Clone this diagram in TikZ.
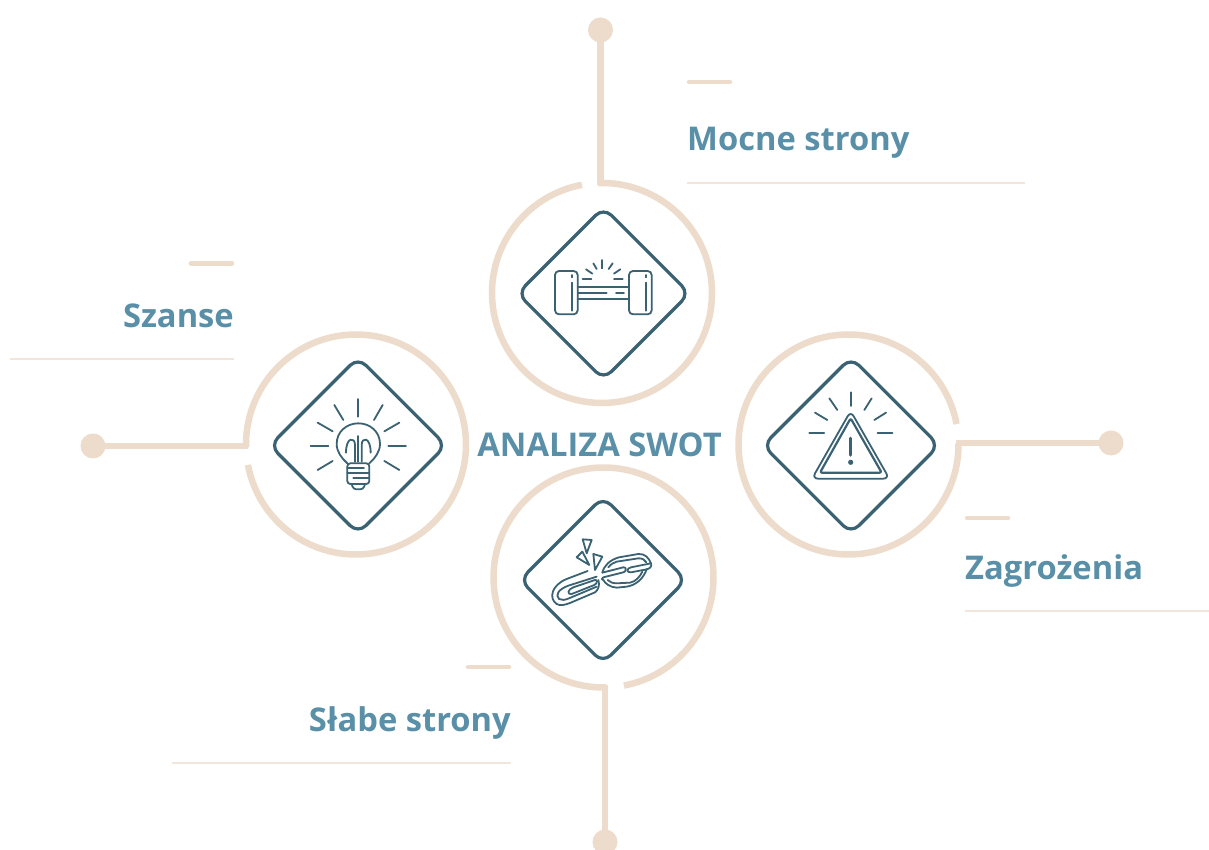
\documentclass[tikz,border=0pt]{standalone}
\usepackage{fontspec}
\setmainfont{Open Sans}
\definecolor{ringc}{HTML}{EDDCCB}
\definecolor{iconc}{HTML}{3A6272}
\definecolor{textc}{HTML}{5A8FA8}
\definecolor{thinc}{HTML}{F2E6DA}
\tikzset{
  ring/.style={draw=ringc,line width=6.5pt},
  connector/.style={draw=ringc,line width=6.5pt},
  dotnode/.style={circle,fill=ringc,inner sep=0pt,minimum size=25pt},
  dashbar/.style={draw=ringc,line width=4.5pt,line cap=round},
  thinline/.style={draw=thinc,line width=1.2pt},
  label/.style={text=textc,font=\fontsize{32.7}{38}\selectfont\bfseries,inner sep=0pt},
  frame/.style={draw=iconc,line width=3.2pt,rounded corners=11pt,line join=round},
  ico/.style={draw=iconc,line width=1.8pt,line cap=round,line join=round},
  zoomed/.style={x=0.33333pt,y=-0.33333pt}
}
\newcommand{\dmd}[3]{\draw[frame] (#1,#2+#3) -- (#1+#3,#2) -- (#1,#2-#3) -- (#1-#3,#2) -- cycle;}
\begin{document}
\begin{tikzpicture}[x=1pt,y=1pt]
\clip (0,0) rectangle (1209,850);
\fill[white] (0,0) rectangle (1209,850);

% rings
\draw[ring] (602,557) ++(92:110) arc[start angle=92,end angle=-259.5,radius=110pt];
\draw[ring] (356,405.5) ++(181.5:110) arc[start angle=181.5,end angle=-169.3,radius=110pt];
\draw[ring] (848.5,405.5) ++(0.5:110) arc[start angle=0.5,end angle=-349.3,radius=110pt];
\draw[ring] (603.5,272.5) ++(-88.7:110) arc[start angle=-88.7,end angle=-439.3,radius=110pt];

% connectors
\node[dotnode] (dotT) at (600.5,820) {};
\node[dotnode] (dotL) at (93,404) {};
\node[dotnode] (dotR) at (1111,407) {};
\node[dotnode] (dotB) at (605,8) {};
\coordinate (endT) at (600.5,665);
\coordinate (endL) at (248,404);
\coordinate (endR) at (956,407);
\coordinate (endB) at (605,165);
\draw[connector] (dotT.center) -- (endT);
\draw[connector] (dotL.center) -- (endL);
\draw[connector] (dotR.center) -- (endR);
\draw[connector] (dotB.center) -- (endB);

% frames
\dmd{603.5}{556.5}{86}
\dmd{358}{404.5}{88}
\dmd{851}{404.5}{88}
\dmd{603}{270}{83}

% labels
\coordinate (a1) at (689,768); \coordinate (a2) at (730,768);
\draw[dashbar] (a1) -- (a2);
\coordinate (a3) at (687,667); \coordinate (a4) at (1025,667);
\draw[thinline] (a3) -- (a4);
\node[label,anchor=base west] (mocne) at (687,699) {Mocne strony};

\coordinate (b1) at (191,586.5); \coordinate (b2) at (232,586.5);
\draw[dashbar] (b1) -- (b2);
\coordinate (b3) at (10,491); \coordinate (b4) at (234,491);
\draw[thinline] (b3) -- (b4);
\node[label,anchor=base east] (szanse) at (234,522) {Szanse};

\coordinate (c1) at (967,332); \coordinate (c2) at (1008,332);
\draw[dashbar] (c1) -- (c2);
\coordinate (c3) at (965,239); \coordinate (c4) at (1209,239);
\draw[thinline] (c3) -- (c4);
\node[label,anchor=base west] (zagr) at (965,270) {Zagrożenia};

\coordinate (d1) at (468,183); \coordinate (d2) at (509,183);
\draw[dashbar] (d1) -- (d2);
\coordinate (d3) at (172,87); \coordinate (d4) at (511,87);
\draw[thinline] (d3) -- (d4);
\node[label,anchor=base east] (slabe) at (511,118) {Słabe strony};

\node[label] (center) at (599.5,405.5) {ANALIZA SWOT};

% dumbbell icon
\begin{scope}[shift={(480,680)},zoomed,ico]
\draw[rounded corners=4pt] (225,303) rectangle (293,433);
\draw[rounded corners=4pt] (447,303) rectangle (515,433);
\draw (293,352) -- (447,352);
\draw (293,387) -- (447,387);
\draw (295,368) -- (380,368) (408,368) -- (432,368);
\draw (275,315) -- (275,322) (275,338) -- (275,422);
\draw (497,315) -- (497,322) (497,338) -- (497,422);
\draw (367,270) -- (367,295);
\draw (340,280) -- (350,297);
\draw (398,280) -- (386,297);
\draw (318,298) -- (337,311);
\draw (421,298) -- (402,311);
\draw (308,328) -- (334,328);
\draw (402,328) -- (428,328);
\end{scope}

% bulb icon
\begin{scope}[shift={(240,520)},zoomed,ico]
\draw (355,207) -- (355,260);
\draw (283,225) -- (310,270);
\draw (428,225) -- (402,270);
\draw (233,278) -- (278,304);
\draw (478,278) -- (433,304);
\draw (212,348) -- (265,348);
\draw (445,348) -- (498,348);
\draw (233,420) -- (278,393);
\draw (478,420) -- (433,393);
\draw (322,400) .. controls (305,385) and (290,365) .. (290,342)
  .. controls (290,305) and (320,280) .. (355,280)
  .. controls (390,280) and (420,305) .. (420,342)
  .. controls (420,365) and (405,385) .. (388,400);
\draw[rounded corners=3pt] (322,400) -- (388,400) -- (388,462) -- (322,462) -- cycle;
\draw (322,415) -- (372,415) (322,430) -- (388,430) (340,445) -- (388,445);
\draw[rounded corners=3pt] (335,462) -- (340,478) -- (370,478) -- (375,462);
\draw (318,368) .. controls (318,320) and (345,320) .. (345,345) -- (345,395);
\draw (392,368) .. controls (392,320) and (365,320) .. (365,345) -- (365,395);
\draw (355,318) -- (355,395);
\end{scope}

% warning icon
\begin{scope}[shift={(730,520)},zoomed,ico]
\draw (362,187) -- (362,228);
\draw (298,205) -- (322,240);
\draw (425,205) -- (403,240);
\draw (255,248) -- (292,270);
\draw (468,248) -- (433,270);
\draw[line width=2.2pt] (238,310) -- (282,310);
\draw[line width=2.2pt] (443,310) -- (487,310);
\draw[rounded corners=6pt] (362,243) -- (478,446) -- (246,446) -- cycle;
\draw[rounded corners=2pt,line width=2.2pt] (362,265) -- (455,428) -- (270,428) -- cycle;
\draw[line width=3.6pt] (362,325) -- (362,375);
\fill[iconc] (362,397) circle[radius=2.6pt];
\end{scope}

% chain icon
\begin{scope}[shift={(545,320)},zoomed,ico]
\draw (113,28) -- (140,30) -- (125,70) -- cycle;
\draw (95,82) -- (112,65) -- (133,105) -- cycle;
\draw (145,72) -- (172,80) -- (150,120) -- cycle;
% lower link
\draw (128,123) -- (65,147) .. controls (20,165) and (10,205) .. (35,222)
  .. controls (45,228) and (60,225) .. (75,219) -- (150,187)
  .. controls (160,180) and (165,165) .. (160,150);
\draw (155,140) -- (70,167) .. controls (40,178) and (30,195) .. (42,207)
  .. controls (50,212) and (60,210) .. (72,205) -- (155,170);
\draw (150,150) -- (85,172) .. controls (68,178) and (65,195) .. (80,192) -- (148,165)
  .. controls (158,160) and (158,148) .. (150,150);
% upper link
\draw (172,128) .. controls (178,105) and (195,90) .. (222,82) -- (280,72)
  .. controls (300,70) and (312,85) .. (318,100)
  -- (258,112) .. controls (245,115) and (243,128) .. (258,127) -- (305,118)
  .. controls (295,145) and (275,165) .. (245,170) -- (215,173)
  .. controls (195,172) and (180,160) .. (175,150);
\draw (318,100) .. controls (322,108) and (315,116) .. (305,118);
\draw (172,128) -- (235,112) .. controls (245,110) and (245,125) .. (235,127)
  -- (175,142) .. controls (168,145) and (170,150) .. (175,150);
\draw (190,112) .. controls (197,103) and (205,98) .. (215,95) -- (280,85)
  .. controls (292,84) and (300,90) .. (304,97);
\draw (292,125) .. controls (285,140) and (272,155) .. (255,158) -- (215,160)
  .. controls (203,160) and (194,156) .. (188,150);
\end{scope}
\end{tikzpicture}
\end{document}
